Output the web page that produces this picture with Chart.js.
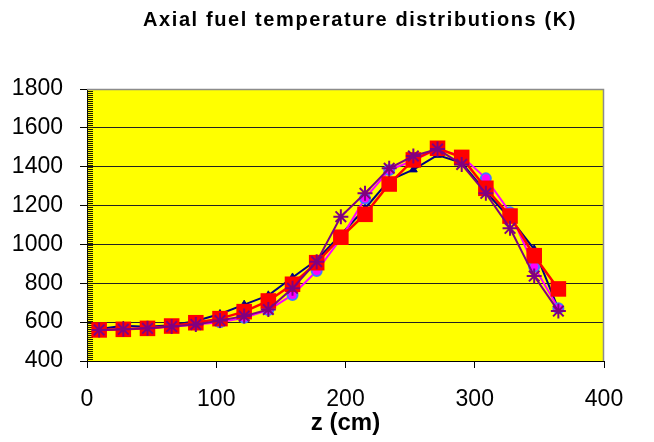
<!DOCTYPE html>
<html lang="en">
<head>
<meta charset="UTF-8">
<title>Axial fuel temperature distributions</title>
<script src="https://cdn.jsdelivr.net/npm/chart.js"></script>
<style>
  body { margin: 0; background: #fff; }
</style>
</head>
<body>
  <canvas id="chart" width="654" height="442"></canvas>

  <script>
    // axial node centres (cm)
    const zNodes = [9.4, 28.1, 46.8, 65.5, 84.2, 102.9, 121.6, 140.3, 159.0, 177.7,
                    196.4, 215.1, 233.8, 252.5, 271.2, 289.9, 308.6, 327.3, 346.0, 364.7];

    // fuel temperatures (K)
    const tempNavy    = [565, 582, 576, 584, 606, 642, 690, 738, 830, 920, 1050, 1185, 1330, 1385, 1460, 1420, 1270, 1135, 975, 668];
    const tempMagenta = [558, 564, 569, 576, 588, 600, 622, 662, 740, 863, 1030, 1237, 1383, 1432, 1492, 1455, 1340, 1165, 885, 671];
    const tempRed     = [560, 563, 568, 580, 597, 618, 654, 709, 795, 906, 1037, 1155, 1311, 1435, 1495, 1448, 1289, 1146, 942, 771];
    const tempPurple  = [560, 563, 568, 577, 588, 608, 631, 665, 774, 911, 1143, 1263, 1392, 1455, 1491, 1412, 1263, 1083, 837, 657];

    const xTicks = [0, 100, 200, 300, 400];
    const yTicks = [400, 600, 800, 1000, 1200, 1400, 1600, 1800];

    const FONT = "'Liberation Sans', Arial, sans-serif";

    function toPoints(ys) {
      return zNodes.map((z, i) => ({ x: z, y: ys[i] }));
    }

    // yellow plot area, grey frame, striped strip along the value axis, and the title
    const plotDecor = {
      id: 'plotDecor',
      beforeDraw(chart) {
        const { ctx, chartArea: a } = chart;
        ctx.save();
        ctx.fillStyle = '#FFFF00';
        ctx.fillRect(a.left, a.top, a.right - a.left, a.bottom - a.top);
        ctx.restore();
      },
      beforeDatasetsDraw(chart) {
        const { ctx, chartArea: a } = chart;
        ctx.save();
        ctx.fillStyle = '#1a1a00';
        for (let y = a.top; y < a.bottom; y += 2) {
          ctx.fillRect(a.left, y, 6, 1);
        }
        ctx.strokeStyle = '#8c8c8c';
        ctx.lineWidth = 1.5;
        ctx.beginPath();
        ctx.moveTo(a.left, a.top + 0.5);
        ctx.lineTo(a.right - 0.5, a.top + 0.5);
        ctx.lineTo(a.right - 0.5, a.bottom);
        ctx.stroke();
        ctx.restore();
      },
      afterDraw(chart) {
        const ctx = chart.ctx;
        ctx.save();
        ctx.font = 'bold 20px ' + FONT;
        ctx.letterSpacing = '1.6px';
        ctx.fillStyle = '#000';
        ctx.textAlign = 'center';
        ctx.textBaseline = 'alphabetic';
        ctx.fillText('Axial fuel temperature distributions (K)', 360, 26);
        ctx.restore();
      }
    };

    const ctx = document.getElementById('chart').getContext('2d');
    const chart = new Chart(ctx, {
      type: 'line',
      data: {
        datasets: [
          {
            label: 'navy',
            data: toPoints(tempNavy),
            borderColor: '#000080',
            backgroundColor: '#000080',
            borderWidth: 2,
            pointStyle: 'triangle',
            pointRadius: 4.5,
            pointBorderWidth: 1,
            order: 4
          },
          {
            label: 'magenta',
            data: toPoints(tempMagenta),
            borderColor: '#FF00FF',
            backgroundColor: '#FF00FF',
            pointBorderColor: '#4477FF',
            borderWidth: 2,
            pointStyle: 'circle',
            pointRadius: 5,
            pointBorderWidth: 2,
            order: 3
          },
          {
            label: 'red',
            data: toPoints(tempRed),
            borderColor: '#FF0000',
            backgroundColor: '#FF0000',
            borderWidth: 2.5,
            pointStyle: 'rect',
            pointRadius: 11,
            pointBorderWidth: 0,
            order: 2
          },
          {
            label: 'purple',
            data: toPoints(tempPurple),
            borderColor: '#800080',
            backgroundColor: '#800080',
            borderWidth: 2,
            pointStyle: 'star',
            pointRadius: 7.5,
            pointBorderWidth: 2,
            order: 1
          }
        ]
      },
      options: {
        responsive: false,
        animation: false,
        events: [],
        layout: { padding: { top: 89, right: 50, bottom: 0, left: 0 } },
        plugins: {
          legend: { display: false },
          title: { display: false },
          tooltip: { enabled: false }
        },
        elements: { line: { tension: 0 } },
        scales: {
          x: {
            type: 'linear',
            min: 0,
            max: 400,
            afterBuildTicks: s => { s.ticks = xTicks.map(v => ({ value: v })); },
            afterFit: s => { s.height = 81; },
            grid: {
              drawOnChartArea: false,
              drawTicks: true,
              tickLength: 7,
              tickColor: '#000'
            },
            border: { color: '#000', width: 1 },
            ticks: {
              color: '#000',
              font: { family: FONT, size: 23 },
              padding: 18,
              maxRotation: 0,
              callback: v => String(v)
            },
            title: {
              display: true,
              text: 'z (cm)',
              color: '#000',
              font: { family: FONT, size: 24, weight: 'bold' },
              padding: { top: 0, bottom: 4 }
            }
          },
          y: {
            min: 400,
            max: 1800,
            afterBuildTicks: s => { s.ticks = yTicks.map(v => ({ value: v })); },
            afterFit: s => { s.width = 87; },
            grid: {
              color: c => (c.tick && c.tick.value === 1800) ? '#8c8c8c' : '#222',
              lineWidth: 1,
              drawTicks: true,
              tickLength: 7,
              tickColor: '#000'
            },
            border: { color: '#000', width: 1 },
            ticks: {
              color: '#000',
              font: { family: FONT, size: 23 },
              padding: 17,
              callback: v => String(v)
            }
          }
        }
      },
      plugins: [plotDecor]
    });
  </script>
</body>
</html>
